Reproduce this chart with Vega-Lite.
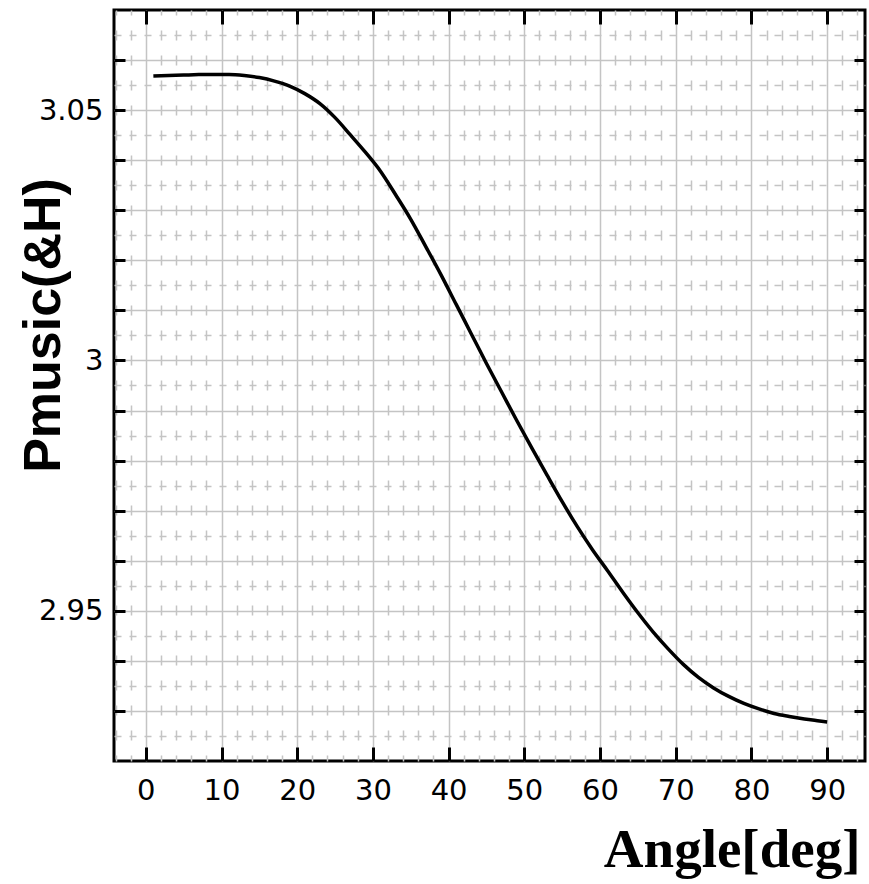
{
  "$schema": "https://vega.github.io/schema/vega-lite/v6.json",
  "width": 751,
  "height": 751,
  "autosize": {"type": "none"},
  "padding": {"left": 114, "top": 10, "right": 4, "bottom": 123},
  "background": "white",
  "config": {
    "view": {"stroke": "black", "strokeWidth": 3},
    "axis": {"domain": false, "labelFont": "DejaVu Sans", "labelColor": "black", "titleColor": "black"}
  },
  "data": {
    "values": [
      {"angle": 1, "p": 3.0568}, {"angle": 3, "p": 3.0569}, {"angle": 5, "p": 3.057}, {"angle": 7, "p": 3.0571},
      {"angle": 9, "p": 3.0571}, {"angle": 11, "p": 3.0571}, {"angle": 13, "p": 3.0569}, {"angle": 15, "p": 3.0565},
      {"angle": 17, "p": 3.0558}, {"angle": 19, "p": 3.0548}, {"angle": 21, "p": 3.0533}, {"angle": 23, "p": 3.0513},
      {"angle": 25, "p": 3.0485}, {"angle": 27, "p": 3.0451}, {"angle": 29, "p": 3.0416}, {"angle": 31, "p": 3.0378},
      {"angle": 33, "p": 3.0331}, {"angle": 35, "p": 3.0282}, {"angle": 37, "p": 3.0227}, {"angle": 39, "p": 3.0171},
      {"angle": 41, "p": 3.0112}, {"angle": 43, "p": 3.0053}, {"angle": 45, "p": 2.9994}, {"angle": 47, "p": 2.9937},
      {"angle": 49, "p": 2.988}, {"angle": 51, "p": 2.9825}, {"angle": 53, "p": 2.9771}, {"angle": 55, "p": 2.9718},
      {"angle": 57, "p": 2.9668}, {"angle": 59, "p": 2.9622}, {"angle": 61, "p": 2.958}, {"angle": 63, "p": 2.9537},
      {"angle": 65, "p": 2.9496}, {"angle": 67, "p": 2.9458}, {"angle": 69, "p": 2.9424}, {"angle": 71, "p": 2.9393},
      {"angle": 73, "p": 2.9367}, {"angle": 75, "p": 2.9346}, {"angle": 77, "p": 2.9329}, {"angle": 79, "p": 2.9315},
      {"angle": 81, "p": 2.9304}, {"angle": 83, "p": 2.9295}, {"angle": 85, "p": 2.9289}, {"angle": 87, "p": 2.9284},
      {"angle": 89, "p": 2.928}, {"angle": 90, "p": 2.9278}
    ]
  },
  "resolve": {"axis": {"x": "independent", "y": "independent"}},
  "layer": [
    {
      "mark": {"type": "line", "opacity": 0},
      "encoding": {
        "x": {
          "field": "angle", "type": "quantitative",
          "scale": {"domain": [-4.2, 95], "nice": false, "zero": false},
          "axis": {
            "orient": "bottom", "title": null, "labels": false, "ticks": false, "domain": false,
            "values": [-4, -2, 2, 4, 6, 8, 12, 14, 16, 18, 22, 24, 26, 28, 32, 34, 36, 38, 42, 44, 46, 48, 52, 54, 56, 58, 62, 64, 66, 68, 72, 74, 76, 78, 82, 84, 86, 88, 92, 94],
            "grid": true, "gridColor": "#c4c4c4", "gridWidth": 1.5, "gridDash": [10, 15], "gridDashOffset": 5
          }
        },
        "y": {
          "field": "p", "type": "quantitative",
          "scale": {"domain": [2.92, 3.07], "nice": false, "zero": false},
          "axis": {
            "orient": "left", "title": null, "labels": false, "ticks": false, "domain": false,
            "values": [2.925, 2.935, 2.945, 2.955, 2.965, 2.975, 2.985, 2.995, 3.005, 3.015, 3.025, 3.035, 3.045, 3.055, 3.065],
            "grid": true, "gridColor": "#c4c4c4", "gridWidth": 1.5, "gridDash": [7, 8]
          }
        }
      }
    },
    {
      "mark": {"type": "line", "color": "black", "strokeWidth": 3.5, "interpolate": "monotone"},
      "encoding": {
        "x": {
          "field": "angle", "type": "quantitative",
          "scale": {"domain": [-4.2, 95], "nice": false, "zero": false},
          "axis": {
            "orient": "bottom",
            "values": [0, 10, 20, 30, 40, 50, 60, 70, 80, 90],
            "format": "d",
            "grid": true, "gridColor": "#c4c4c4", "gridWidth": 1.5,
            "ticks": true, "tickSize": -14, "tickWidth": 3, "tickColor": "black",
            "labelFontSize": 29, "labelPadding": 29,
            "title": "Angle[deg]", "titleFont": "Liberation Serif", "titleFontWeight": "bold", "titleFontSize": 55,
            "titleAlign": "right", "titleBaseline": "alphabetic", "titleX": 746, "titleY": 105
          }
        },
        "y": {
          "field": "p", "type": "quantitative",
          "scale": {"domain": [2.92, 3.07], "nice": false, "zero": false},
          "axis": {
            "orient": "left",
            "values": [2.93, 2.94, 2.95, 2.96, 2.97, 2.98, 2.99, 3.0, 3.01, 3.02, 3.03, 3.04, 3.05, 3.06],
            "labelExpr": "abs(datum.value-3.05)<1e-6 ? '3.05' : (abs(datum.value-3)<1e-6 ? '3' : (abs(datum.value-2.95)<1e-6 ? '2.95' : ''))",
            "grid": true, "gridColor": "#c4c4c4", "gridWidth": 1.5,
            "ticks": true, "tickSize": -11, "tickWidth": 3, "tickColor": "black",
            "labelFontSize": 29, "labelPadding": 22,
            "title": "Pmusic(&H)", "titleFont": "Liberation Sans", "titleFontWeight": "bold", "titleFontSize": 52,
            "titleAngle": -90, "titleAlign": "center", "titleBaseline": "alphabetic", "titleX": -55, "titleY": 315
          }
        }
      }
    },
    {
      "mark": {"type": "line", "opacity": 0},
      "encoding": {
        "x": {
          "field": "angle", "type": "quantitative",
          "scale": {"domain": [-4.2, 95], "nice": false, "zero": false},
          "axis": {
            "orient": "top", "title": null, "labels": false, "grid": false, "domain": false,
            "values": [0, 10, 20, 30, 40, 50, 60, 70, 80, 90],
            "ticks": true, "tickSize": -14, "tickWidth": 3, "tickColor": "black"
          }
        },
        "y": {
          "field": "p", "type": "quantitative",
          "scale": {"domain": [2.92, 3.07], "nice": false, "zero": false},
          "axis": {
            "orient": "right", "title": null, "labels": false, "grid": false, "domain": false,
            "values": [2.93, 2.94, 2.95, 2.96, 2.97, 2.98, 2.99, 3.0, 3.01, 3.02, 3.03, 3.04, 3.05, 3.06],
            "ticks": true, "tickSize": -11, "tickWidth": 3, "tickColor": "black"
          }
        }
      }
    }
  ]
}
